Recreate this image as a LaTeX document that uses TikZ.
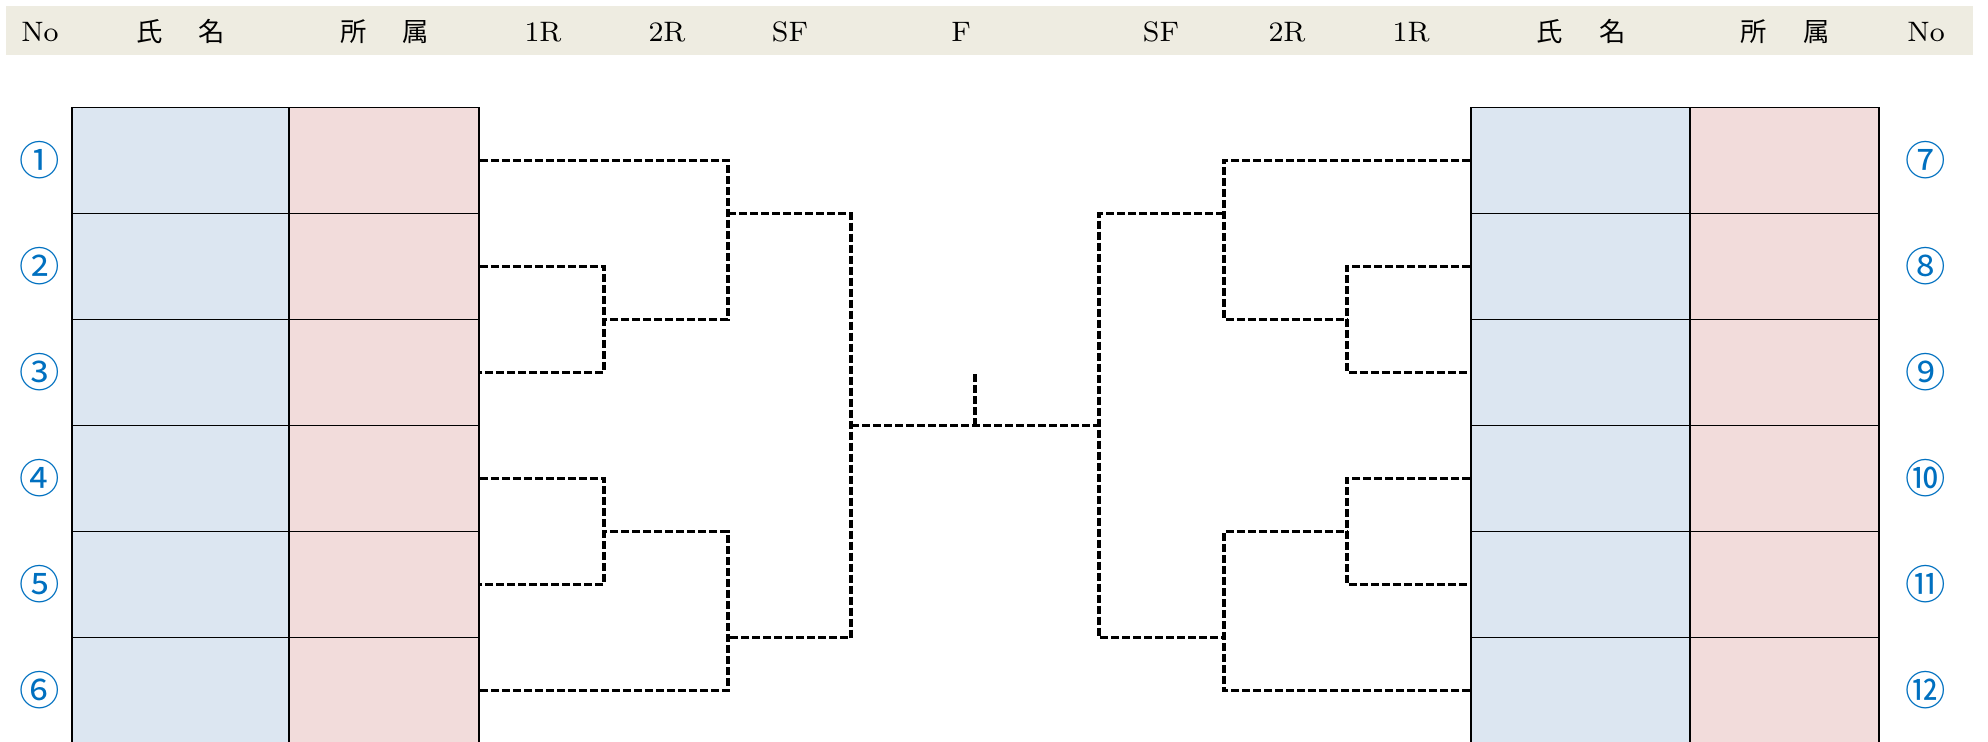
\documentclass[tikz,border=0pt]{standalone}
\usepackage{fontspec}
\newfontfamily\jpfont{Noto Sans CJK JP}
\definecolor{headtan}{HTML}{EEECE1}
\definecolor{nameblue}{HTML}{DCE6F1}
\definecolor{clubpink}{HTML}{F2DCDB}
\definecolor{seedblue}{HTML}{0070C0}

\tikzset{
  namecell/.style={draw=black, line width=0.45pt, fill=nameblue, minimum height=10.6mm, inner sep=0pt},
  clubcell/.style={draw=black, line width=0.45pt, fill=clubpink, minimum height=10.6mm, inner sep=0pt},
  headlbl/.style={font=\fontsize{8}{9}\selectfont, anchor=base},
  headjp/.style={font=\jpfont\fontsize{7.5}{9}\selectfont, anchor=base},
  seednum/.style={font=\jpfont\fontsize{11.5}{12}\selectfont, text=seedblue},
  bracket/.style={line width=1pt, dash pattern=on 0.8mm off 0.3mm}
}

\begin{document}
\begin{tikzpicture}[x=1mm, y=-1mm]
\useasboundingbox (0,0) rectangle (198.8,74.1);
% header band
\fill [headtan] (0.6,0.6) rectangle (197.3,5.5);
\node [headlbl] (hnoL)   at (4.0,4.1)   {No};
\node [headjp]  (hnameL) at (18.05,4.1) {氏\hspace{3.6mm}名};
\node [headjp]  (hclubL) at (38.5,4.1)  {所\hspace{3.6mm}属};
\node [headlbl] (h1rL)   at (54.3,4.1)  {1R};
\node [headlbl] (h2rL)   at (66.7,4.1)  {2R};
\node [headlbl] (hsfL)   at (79.0,4.1)  {SF};
\node [headlbl] (hfin)   at (96.1,4.1)  {F};
\node [headlbl] (hsfR)   at (116.1,4.1) {SF};
\node [headlbl] (h2rR)   at (128.7,4.1) {2R};
\node [headlbl] (h1rR)   at (141.1,4.1) {1R};
\node [headjp]  (hnameR) at (158.1,4.1) {氏\hspace{3.6mm}名};
\node [headjp]  (hclubR) at (178.5,4.1) {所\hspace{3.6mm}属};
\node [headlbl] (hnoR)   at (192.6,4.1) {No};
% left entries
\node [namecell, minimum width=21.7mm] (nm1) at (18.05,16.05) {};
\node [clubcell, minimum width=19.0mm] (cl1) at (38.4,16.05)  {};
\node [seednum] (no1) at (4.0,16.05) {①};
\node [namecell, minimum width=21.7mm] (nm2) at (18.05,26.65) {};
\node [clubcell, minimum width=19.0mm] (cl2) at (38.4,26.65)  {};
\node [seednum] (no2) at (4.0,26.65) {②};
\node [namecell, minimum width=21.7mm] (nm3) at (18.05,37.25) {};
\node [clubcell, minimum width=19.0mm] (cl3) at (38.4,37.25)  {};
\node [seednum] (no3) at (4.0,37.25) {③};
\node [namecell, minimum width=21.7mm] (nm4) at (18.05,47.85) {};
\node [clubcell, minimum width=19.0mm] (cl4) at (38.4,47.85)  {};
\node [seednum] (no4) at (4.0,47.85) {④};
\node [namecell, minimum width=21.7mm] (nm5) at (18.05,58.45) {};
\node [clubcell, minimum width=19.0mm] (cl5) at (38.4,58.45)  {};
\node [seednum] (no5) at (4.0,58.45) {⑤};
\node [namecell, minimum width=21.7mm] (nm6) at (18.05,69.05) {};
\node [clubcell, minimum width=19.0mm] (cl6) at (38.4,69.05)  {};
\node [seednum] (no6) at (4.0,69.05) {⑥};
% right entries
\node [namecell, minimum width=21.9mm] (nm7) at (158.05,16.05) {};
\node [clubcell, minimum width=18.9mm] (cl7) at (178.45,16.05) {};
\node [seednum] (no7) at (192.6,16.05) {⑦};
\node [namecell, minimum width=21.9mm] (nm8) at (158.05,26.65) {};
\node [clubcell, minimum width=18.9mm] (cl8) at (178.45,26.65) {};
\node [seednum] (no8) at (192.6,26.65) {⑧};
\node [namecell, minimum width=21.9mm] (nm9) at (158.05,37.25) {};
\node [clubcell, minimum width=18.9mm] (cl9) at (178.45,37.25) {};
\node [seednum] (no9) at (192.6,37.25) {⑨};
\node [namecell, minimum width=21.9mm] (nm10) at (158.05,47.85) {};
\node [clubcell, minimum width=18.9mm] (cl10) at (178.45,47.85) {};
\node [seednum] (no10) at (192.6,47.85) {⑩};
\node [namecell, minimum width=21.9mm] (nm11) at (158.05,58.45) {};
\node [clubcell, minimum width=18.9mm] (cl11) at (178.45,58.45) {};
\node [seednum] (no11) at (192.6,58.45) {⑪};
\node [namecell, minimum width=21.9mm] (nm12) at (158.05,69.05) {};
\node [clubcell, minimum width=18.9mm] (cl12) at (178.45,69.05) {};
\node [seednum] (no12) at (192.6,69.05) {⑫};
% bracket joints
\coordinate (l23)   at (60.4,31.95);
\coordinate (l45)   at (60.4,53.15);
\coordinate (l13)   at (72.8,21.35);
\coordinate (l46)   at (72.8,63.75);
\coordinate (lsf)   at (85.1,42.55);
\coordinate (fin)   at (97.5,42.55);
\coordinate (champ) at (97.5,37.25);
\coordinate (rsf)   at (109.9,42.55);
\coordinate (r79)   at (122.4,21.35);
\coordinate (r1012) at (122.4,63.75);
\coordinate (r89)   at (134.7,31.95);
\coordinate (r1011) at (134.7,53.15);
% left bracket
\draw [bracket] (cl2.east) -| (l23) |- (cl3.east);
\draw [bracket] (cl4.east) -| (l45) |- (cl5.east);
\draw [bracket] (cl1.east) -| (l13) |- (l23);
\draw [bracket] (cl6.east) -| (l46) |- (l45);
\draw [bracket] (l13) -| (lsf) |- (l46);
% final
\draw [bracket] (lsf) -- (rsf);
\draw [bracket] (fin) -- (champ);
% right bracket
\draw [bracket] (nm8.west) -| (r89) |- (nm9.west);
\draw [bracket] (nm10.west) -| (r1011) |- (nm11.west);
\draw [bracket] (nm7.west) -| (r79) |- (r89);
\draw [bracket] (nm12.west) -| (r1012) |- (r1011);
\draw [bracket] (r79) -| (rsf) |- (r1012);
\end{tikzpicture}
\end{document}
